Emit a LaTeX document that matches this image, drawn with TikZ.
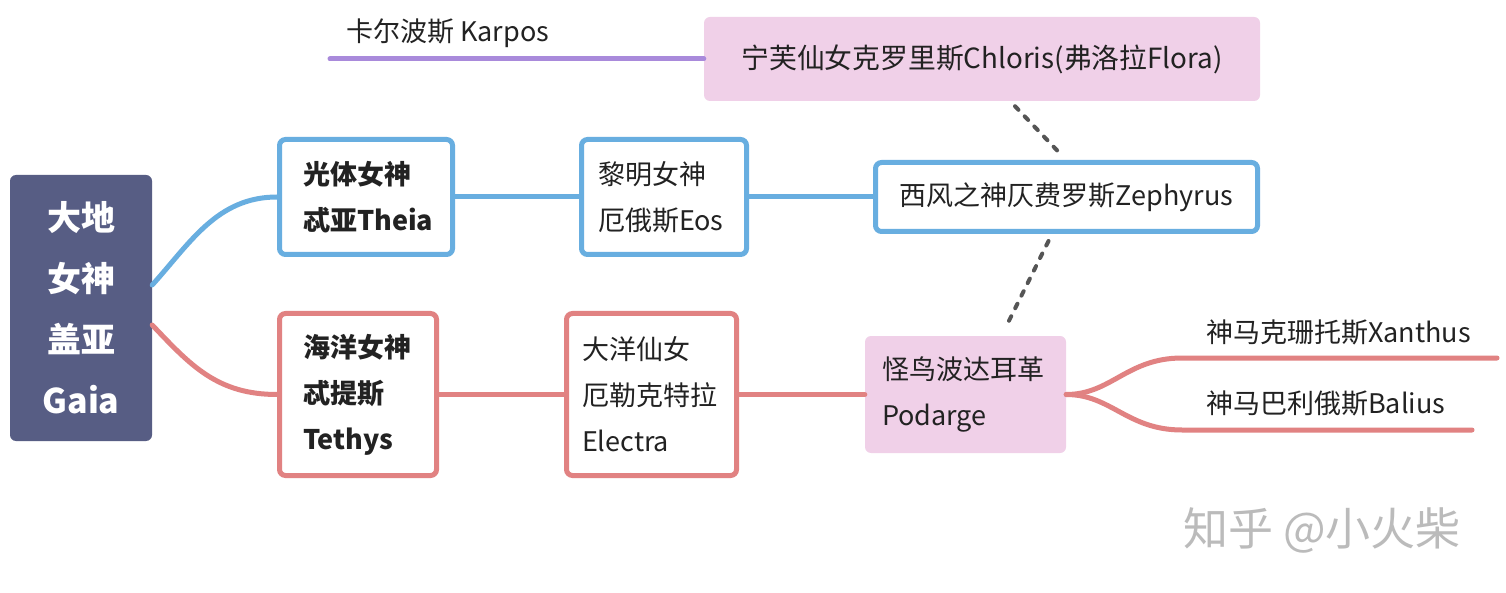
\documentclass[tikz,border=0pt]{standalone}
\usepackage{fontspec}
\setmainfont{Noto Sans CJK SC}
\usetikzlibrary{calc}
\definecolor{cblue}{HTML}{68AEE0}
\definecolor{cred}{HTML}{E18282}
\definecolor{cpurple}{HTML}{A98ADB}
\definecolor{cgaia}{HTML}{575D84}
\definecolor{cpink}{HTML}{F0D0E8}
\definecolor{ctext}{HTML}{222222}
\definecolor{cdot}{HTML}{555555}
\definecolor{cwm}{HTML}{BBBBBB}
\begin{document}
\begin{tikzpicture}[x=1pt,y=-1pt,
  txt/.style={text=ctext, font=\fontsize{27}{46}\selectfont, inner sep=0pt},
  framebox/.style={txt, line width=5pt, rounded corners=6pt, fill=white, inner ysep=0pt, align=left},
  bluebox/.style={framebox, draw=cblue},
  redbox/.style={framebox, draw=cred},
  pinkbox/.style={txt, fill=cpink, rounded corners=6pt, inner ysep=0pt, align=left},
  bluelink/.style={draw=cblue, line width=5pt, line cap=round},
  redlink/.style={draw=cred, line width=5pt, line cap=round},
  purplelink/.style={draw=cpurple, line width=5pt, line cap=round},
  dotlink/.style={draw=cdot, line width=4pt, line cap=round, dash pattern=on 5pt off 9pt},
  label/.style={txt, anchor=west}
]
\useasboundingbox (0,0) rectangle (1506,593);
\fill[white] (0,0) rectangle (1506,593);

% root
\node[fill=cgaia, rounded corners=6pt, minimum width=142pt, minimum height=266pt,
      text=white, font=\fontsize{34}{61}\selectfont\bfseries, align=center, inner sep=0pt]
  (gaia) at (81,308) {大地\\女神\\盖亚\\Gaia};

% blue branch
\node[bluebox, minimum width=173pt, minimum height=115pt, text width=126pt, inner xsep=23.5pt]
  (theia) at (366,197) {\bfseries 光体女神\\忒亚Theia};
\node[bluebox, minimum width=165pt, minimum height=115pt, text width=132pt, inner xsep=16.5pt]
  (eos) at (664,197) {黎明女神\\厄俄斯Eos};
\node[bluebox, minimum width=382pt, minimum height=69pt, align=center]
  (zeph) at (1066.5,197) {西风之神仄费罗斯Zephyrus};
\node[pinkbox, minimum width=556pt, minimum height=84pt, align=center, font=\fontsize{27.8}{46}\selectfont]
  (chloris) at (982,59) {宁芙仙女克罗里斯Chloris(弗洛拉Flora)};

% red branch
\node[redbox, minimum width=157pt, minimum height=162pt, text width=110pt, inner xsep=23.5pt]
  (tethys) at (358,394.5) {\bfseries 海洋女神\\忒提斯\\Tethys};
\node[redbox, minimum width=170pt, minimum height=162pt, text width=139pt, inner xsep=15.5pt]
  (electra) at (651.5,394.5) {大洋仙女\\厄勒克特拉\\Electra};
\node[pinkbox, minimum width=201pt, minimum height=117pt, text width=167pt, inner xsep=17pt]
  (podarge) at (965.5,394.5) {怪鸟波达耳革\\Podarge};

% labels
\node[label] (karpos) at (346,33) {卡尔波斯 Karpos};
\node[label] (xanthus) at (1206,332) {神马克珊托斯Xanthus};
\node[label] (balius) at (1206,403) {神马巴利俄斯Balius};
\node[anchor=west, inner sep=0pt, text=cwm, font=\fontsize{45}{45}\selectfont] (wm) at (1183,530) {知乎 @小火柴};

% coordinates for free ends
\coordinate (karposend) at (330,59);
\coordinate (xs) at (1182,358);
\coordinate (xe) at (1497,358);
\coordinate (bs) at (1182,430);
\coordinate (be) at (1472,430);

% connectors
\draw[bluelink] ($(gaia.east)+(0,-23)$) .. controls +(38,-42) and +(-60,0) .. (theia.west);
\draw[redlink] ($(gaia.east)+(0,17)$) .. controls +(38,40) and +(-60,0) .. (tethys.west);
\draw[bluelink] (theia.east) -- (eos.west);
\draw[bluelink] (eos.east) -- (zeph.west);
\draw[redlink] (tethys.east) -- (electra.west);
\draw[redlink] (electra.east) -- (podarge.west);
\draw[purplelink] (chloris.west) -- (karposend);
\draw[redlink] (podarge.east) .. controls +(45,0) and +(-55,0) .. (xs) -- (xe);
\draw[redlink] (podarge.east) .. controls +(45,0) and +(-55,0) .. (bs) -- (be);
\draw[dotlink] ($(chloris.south)+(33,5)$) -- ($(zeph.north)+(-6,-6)$);
\draw[dotlink] ($(zeph.south)+(-18,7)$) -- ($(podarge.north)+(40,-8)$);
\end{tikzpicture}
\end{document}
